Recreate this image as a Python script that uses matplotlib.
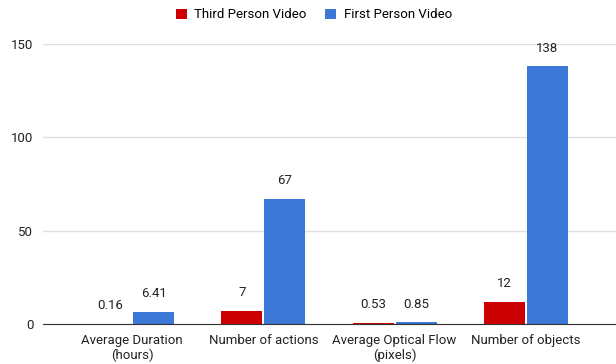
import matplotlib
matplotlib.use("Agg")
import matplotlib.pyplot as plt
import numpy as np

plt.rcParams["font.family"] = ["Roboto", "DejaVu Sans"]

categories = ["Average Duration\n(hours)", "Number of actions", "Average Optical Flow\n(pixels)", "Number of objects"]
series_names = ["Third Person Video", "First Person Video"]
third_person = [0.16, 7, 0.53, 12]
first_person = [6.41, 67, 0.85, 138]
third_labels = ["0.16", "7", "0.53", "12"]
first_labels = ["6.41", "67", "0.85", "138"]
yticks = [0, 50, 100, 150]

RED = "#cc0000"
BLUE = "#3c78d8"

fig = plt.figure(figsize=(6.16, 3.64), dpi=100)
ax = fig.add_axes([43/616, 40/364, 1 - 43/616, 280/364])

x = np.arange(len(categories))
w = 0.312
b1 = ax.bar(x - w/2 - 0.008, third_person, w, color=RED, label=series_names[0], zorder=3)
b2 = ax.bar(x + w/2 + 0.008, first_person, w, color=BLUE, label=series_names[1], zorder=3)

for rects, labs in ((b1, third_labels), (b2, first_labels)):
    for r, lab in zip(rects, labs):
        ax.annotate(lab, (r.get_x() + r.get_width()/2, r.get_height()),
                    xytext=(0, 8.5), textcoords="offset points",
                    ha="center", va="bottom", fontsize=9.5, color="#222222")

ax.set_ylim(0, 150)
ax.set_xlim(-0.678, 3.686)
ax.set_yticks(yticks)
ax.set_yticklabels([str(t) for t in yticks])
ax.set_xticks(x)
ax.set_xticklabels(categories)
ax.tick_params(axis="both", length=0, labelsize=9.5, colors="#222222")
ax.tick_params(axis="y", pad=7)
ax.tick_params(axis="x", pad=7)
ax.grid(axis="y", color="#e0e0e0", linewidth=1, zorder=0)
for s in ["top", "right", "left"]:
    ax.spines[s].set_visible(False)
ax.spines["bottom"].set_color("#333333")
ax.spines["bottom"].set_zorder(4)

fig.legend(handles=[b1, b2], labels=series_names, loc="center", bbox_to_anchor=(314/616, 1 - 15/364),
           ncol=2, frameon=False, fontsize=9.5, handlelength=0.8, handleheight=0.8,
           columnspacing=1.4, handletextpad=0.6)

fig.savefig("out.png", dpi=100)
